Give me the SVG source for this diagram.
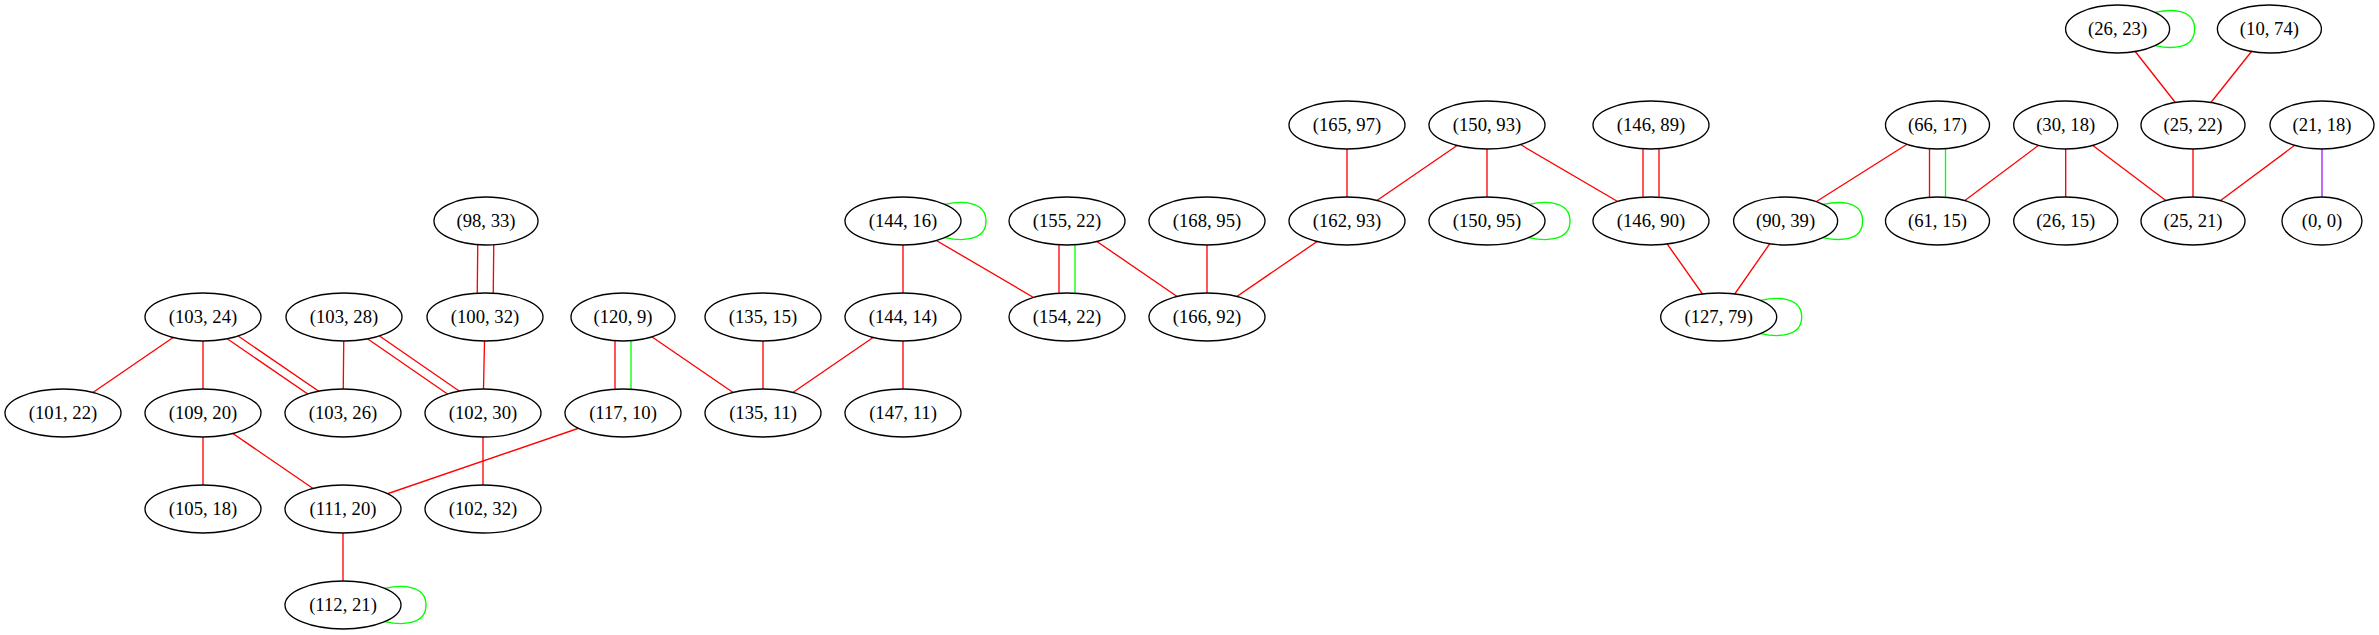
<svg xmlns="http://www.w3.org/2000/svg" width="2379" height="635" viewBox="0 0 2379 635">
<style>
.bg{fill:#fff}
.n ellipse{fill:#fff;stroke:#000;stroke-width:1.33}
.n text{font-family:"Liberation Serif","Times New Roman",serif;font-size:18.67px;text-anchor:middle;fill:#000}
.e line,.e path{fill:none;stroke-width:1.33}
.r{stroke:#ff0000}
.g{stroke:#00ff00}
.p{stroke:#a020f0}
</style>
<rect class="bg" x="0" y="0" width="2379" height="635"/>
<g id="connectors" class="e">
<line class="r" x1="203" y1="317" x2="63" y2="413"/>
<line class="r" x1="203" y1="317" x2="203" y2="413"/>
<line class="r" x1="195.5" y1="317" x2="335.5" y2="413"/>
<line class="r" x1="210.5" y1="317" x2="350.5" y2="413"/>
<line class="r" x1="344" y1="317" x2="343" y2="413"/>
<line class="r" x1="336" y1="317" x2="475" y2="413"/>
<line class="r" x1="352" y1="317" x2="491" y2="413"/>
<line class="r" x1="478" y1="221" x2="477" y2="317"/>
<line class="r" x1="494" y1="221" x2="493" y2="317"/>
<line class="r" x1="485" y1="317" x2="483" y2="413"/>
<line class="r" x1="615" y1="317" x2="615" y2="413"/>
<line class="g" x1="631" y1="317" x2="631" y2="413"/>
<line class="r" x1="623" y1="317" x2="763" y2="413"/>
<line class="r" x1="203" y1="413" x2="203" y2="509"/>
<line class="r" x1="203" y1="413" x2="343" y2="509"/>
<line class="r" x1="623" y1="413" x2="343" y2="509"/>
<line class="r" x1="483" y1="413" x2="483" y2="509"/>
<line class="r" x1="343" y1="509" x2="343" y2="605"/>
<path class="g" d="M384.8,588.4 C400,585 426,584 426,605 C426,626 400,625 384.8,621.6"/>
<line class="r" x1="763" y1="317" x2="763" y2="413"/>
<line class="r" x1="903" y1="317" x2="763" y2="413"/>
<line class="r" x1="903" y1="317" x2="903" y2="413"/>
<line class="r" x1="903" y1="221" x2="903" y2="317"/>
<line class="r" x1="903" y1="221" x2="1067" y2="317"/>
<path class="g" d="M944.8,204.4 C960,201 986,200 986,221 C986,242 960,241 944.8,237.6"/>
<line class="r" x1="1059" y1="221" x2="1059" y2="317"/>
<line class="g" x1="1075" y1="221" x2="1075" y2="317"/>
<line class="r" x1="1067" y1="221" x2="1207" y2="317"/>
<line class="r" x1="1207" y1="221" x2="1207" y2="317"/>
<line class="r" x1="1347" y1="221" x2="1207" y2="317"/>
<line class="r" x1="1347" y1="125" x2="1347" y2="221"/>
<line class="r" x1="1487" y1="125" x2="1347" y2="221"/>
<line class="r" x1="1487" y1="125" x2="1487" y2="221"/>
<path class="g" d="M1528.8,204.4 C1544,201 1570,200 1570,221 C1570,242 1544,241 1528.8,237.6"/>
<line class="r" x1="1487" y1="125" x2="1651" y2="221"/>
<line class="r" x1="1643" y1="125" x2="1643" y2="221"/>
<line class="r" x1="1659" y1="125" x2="1659" y2="221"/>
<line class="r" x1="1651" y1="221" x2="1718.7" y2="317"/>
<line class="r" x1="1785.6" y1="221" x2="1718.7" y2="317"/>
<path class="g" d="M1760.5,300.4 C1775.7,297 1801.7,296 1801.7,317 C1801.7,338 1775.7,337 1760.5,333.6"/>
<path class="g" d="M1823,204.4 C1838,201 1862.6,200 1862.6,221 C1862.6,242 1838,241 1823,237.6"/>
<line class="r" x1="1937.5" y1="125" x2="1785.6" y2="221"/>
<line class="r" x1="1929.5" y1="125" x2="1929.5" y2="221"/>
<line class="g" x1="1945.5" y1="125" x2="1945.5" y2="221"/>
<line class="r" x1="2065.7" y1="125" x2="1937.5" y2="221"/>
<line class="r" x1="2065.7" y1="125" x2="2065.7" y2="221"/>
<line class="r" x1="2065.7" y1="125" x2="2193" y2="221"/>
<path class="g" d="M2155,12.4 C2170,9 2194.6,8 2194.6,29 C2194.6,50 2170,49 2155,45.6"/>
<line class="r" x1="2117.6" y1="29" x2="2193" y2="125"/>
<line class="r" x1="2269.4" y1="29" x2="2193" y2="125"/>
<line class="r" x1="2193" y1="125" x2="2193" y2="221"/>
<line class="r" x1="2322" y1="125" x2="2193" y2="221"/>
<line class="p" x1="2322" y1="125" x2="2322" y2="221"/>
</g>
<g id="n26_23" class="n"><ellipse cx="2117.6" cy="29" rx="52" ry="24"/><text x="2117.6" y="35">(26, 23)</text></g>
<g id="n10_74" class="n"><ellipse cx="2269.4" cy="29" rx="52" ry="24"/><text x="2269.4" y="35">(10, 74)</text></g>
<g id="n165_97" class="n"><ellipse cx="1347" cy="125" rx="58" ry="24"/><text x="1347" y="131">(165, 97)</text></g>
<g id="n150_93" class="n"><ellipse cx="1487" cy="125" rx="58" ry="24"/><text x="1487" y="131">(150, 93)</text></g>
<g id="n146_89" class="n"><ellipse cx="1651" cy="125" rx="58" ry="24"/><text x="1651" y="131">(146, 89)</text></g>
<g id="n66_17" class="n"><ellipse cx="1937.5" cy="125" rx="52" ry="24"/><text x="1937.5" y="131">(66, 17)</text></g>
<g id="n30_18" class="n"><ellipse cx="2065.7" cy="125" rx="52" ry="24"/><text x="2065.7" y="131">(30, 18)</text></g>
<g id="n25_22" class="n"><ellipse cx="2193" cy="125" rx="52" ry="24"/><text x="2193" y="131">(25, 22)</text></g>
<g id="n21_18" class="n"><ellipse cx="2322" cy="125" rx="52" ry="24"/><text x="2322" y="131">(21, 18)</text></g>
<g id="n98_33" class="n"><ellipse cx="486" cy="221" rx="52" ry="24"/><text x="486" y="227">(98, 33)</text></g>
<g id="n144_16" class="n"><ellipse cx="903" cy="221" rx="58" ry="24"/><text x="903" y="227">(144, 16)</text></g>
<g id="n155_22" class="n"><ellipse cx="1067" cy="221" rx="58" ry="24"/><text x="1067" y="227">(155, 22)</text></g>
<g id="n168_95" class="n"><ellipse cx="1207" cy="221" rx="58" ry="24"/><text x="1207" y="227">(168, 95)</text></g>
<g id="n162_93" class="n"><ellipse cx="1347" cy="221" rx="58" ry="24"/><text x="1347" y="227">(162, 93)</text></g>
<g id="n150_95" class="n"><ellipse cx="1487" cy="221" rx="58" ry="24"/><text x="1487" y="227">(150, 95)</text></g>
<g id="n146_90" class="n"><ellipse cx="1651" cy="221" rx="58" ry="24"/><text x="1651" y="227">(146, 90)</text></g>
<g id="n90_39" class="n"><ellipse cx="1785.6" cy="221" rx="52" ry="24"/><text x="1785.6" y="227">(90, 39)</text></g>
<g id="n61_15" class="n"><ellipse cx="1937.5" cy="221" rx="52" ry="24"/><text x="1937.5" y="227">(61, 15)</text></g>
<g id="n26_15" class="n"><ellipse cx="2065.7" cy="221" rx="52" ry="24"/><text x="2065.7" y="227">(26, 15)</text></g>
<g id="n25_21" class="n"><ellipse cx="2193" cy="221" rx="52" ry="24"/><text x="2193" y="227">(25, 21)</text></g>
<g id="n0_0" class="n"><ellipse cx="2322" cy="221" rx="40" ry="24"/><text x="2322" y="227">(0, 0)</text></g>
<g id="n103_24" class="n"><ellipse cx="203" cy="317" rx="58" ry="24"/><text x="203" y="323">(103, 24)</text></g>
<g id="n103_28" class="n"><ellipse cx="344" cy="317" rx="58" ry="24"/><text x="344" y="323">(103, 28)</text></g>
<g id="n100_32" class="n"><ellipse cx="485" cy="317" rx="58" ry="24"/><text x="485" y="323">(100, 32)</text></g>
<g id="n120_9" class="n"><ellipse cx="623" cy="317" rx="52" ry="24"/><text x="623" y="323">(120, 9)</text></g>
<g id="n135_15" class="n"><ellipse cx="763" cy="317" rx="58" ry="24"/><text x="763" y="323">(135, 15)</text></g>
<g id="n144_14" class="n"><ellipse cx="903" cy="317" rx="58" ry="24"/><text x="903" y="323">(144, 14)</text></g>
<g id="n154_22" class="n"><ellipse cx="1067" cy="317" rx="58" ry="24"/><text x="1067" y="323">(154, 22)</text></g>
<g id="n166_92" class="n"><ellipse cx="1207" cy="317" rx="58" ry="24"/><text x="1207" y="323">(166, 92)</text></g>
<g id="n127_79" class="n"><ellipse cx="1718.7" cy="317" rx="58" ry="24"/><text x="1718.7" y="323">(127, 79)</text></g>
<g id="n101_22" class="n"><ellipse cx="63" cy="413" rx="58" ry="24"/><text x="63" y="419">(101, 22)</text></g>
<g id="n109_20" class="n"><ellipse cx="203" cy="413" rx="58" ry="24"/><text x="203" y="419">(109, 20)</text></g>
<g id="n103_26" class="n"><ellipse cx="343" cy="413" rx="58" ry="24"/><text x="343" y="419">(103, 26)</text></g>
<g id="n102_30" class="n"><ellipse cx="483" cy="413" rx="58" ry="24"/><text x="483" y="419">(102, 30)</text></g>
<g id="n117_10" class="n"><ellipse cx="623" cy="413" rx="58" ry="24"/><text x="623" y="419">(117, 10)</text></g>
<g id="n135_11" class="n"><ellipse cx="763" cy="413" rx="58" ry="24"/><text x="763" y="419">(135, 11)</text></g>
<g id="n147_11" class="n"><ellipse cx="903" cy="413" rx="58" ry="24"/><text x="903" y="419">(147, 11)</text></g>
<g id="n105_18" class="n"><ellipse cx="203" cy="509" rx="58" ry="24"/><text x="203" y="515">(105, 18)</text></g>
<g id="n111_20" class="n"><ellipse cx="343" cy="509" rx="58" ry="24"/><text x="343" y="515">(111, 20)</text></g>
<g id="n102_32" class="n"><ellipse cx="483" cy="509" rx="58" ry="24"/><text x="483" y="515">(102, 32)</text></g>
<g id="n112_21" class="n"><ellipse cx="343" cy="605" rx="58" ry="24"/><text x="343" y="611">(112, 21)</text></g>
</svg>
